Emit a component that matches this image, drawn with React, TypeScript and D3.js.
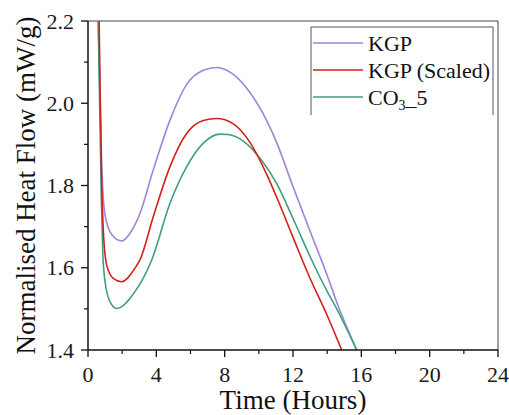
import React from "react";
import * as d3 from "d3";

const W = 509;
const H = 415;
const M = { left: 88, right: 498, top: 21, bottom: 350 };

const xTicks = [0, 4, 8, 12, 16, 20, 24];
const xMinor = [2, 6, 10, 14, 18, 22];
const yTicks = [1.4, 1.6, 1.8, 2.0, 2.2];
const yMinor = [1.5, 1.7, 1.9, 2.1];

const kgpTime = [0.5, 0.6, 0.8, 1.0, 1.4, 1.97, 2.46, 3.04, 3.82, 4.8, 5.78, 6.75, 7.53, 8.51, 9.48, 10.46, 11.04, 12.02, 12.99, 13.97, 14.6, 15.73];
const kgpFlow = [2.45, 2.2, 1.85, 1.728, 1.68, 1.665, 1.684, 1.732, 1.838, 1.959, 2.046, 2.08, 2.087, 2.07, 2.026, 1.958, 1.905, 1.795, 1.69, 1.585, 1.512, 1.4];

const scaledTime = [0.55, 0.65, 0.8, 0.9, 1.09, 1.48, 1.97, 2.75, 3.04, 3.82, 4.8, 5.78, 6.75, 7.53, 8.51, 9.48, 10.46, 11.04, 12.02, 12.99, 13.97, 14.85];
const scaledFlow = [2.45, 2.2, 1.809, 1.688, 1.607, 1.574, 1.566, 1.599, 1.619, 1.724, 1.846, 1.927, 1.958, 1.963, 1.95, 1.905, 1.827, 1.772, 1.672, 1.575, 1.487, 1.4];

const co3Time = [0.5, 0.6, 0.78, 0.87, 1.0, 1.29, 1.68, 2.75, 3.73, 4.8, 5.78, 6.75, 7.73, 8.21, 9.09, 10.07, 11.04, 12.02, 12.99, 13.97, 14.6, 15.73];
const co3Flow = [2.45, 2.2, 1.769, 1.631, 1.566, 1.517, 1.501, 1.542, 1.619, 1.757, 1.846, 1.903, 1.925, 1.924, 1.908, 1.866, 1.805, 1.718, 1.628, 1.545, 1.497, 1.4];

const seriesNames = ["KGP", "KGP (Scaled)", "CO3_5"];
const seriesColors = ["#a283d8", "#d61e1e", "#3f9f7c"];

const FONT = '"Liberation Serif", "Times New Roman", Times, "DejaVu Serif", serif';
const tStyle = { fontFamily: FONT };

export default function App() {
  const x = d3.scaleLinear().domain([0, 24]).range([M.left, M.right]);
  const y = d3.scaleLinear().domain([1.4, 2.2]).range([M.bottom, M.top]);
  const line = d3
    .line<[number, number]>()
    .x((d) => x(d[0]))
    .y((d) => y(d[1]))
    .curve(d3.curveMonotoneX);

  const series = [
    { name: seriesNames[0], color: seriesColors[0], data: kgpTime.map((t, i) => [t, kgpFlow[i]] as [number, number]) },
    { name: seriesNames[1], color: seriesColors[1], data: scaledTime.map((t, i) => [t, scaledFlow[i]] as [number, number]) },
    { name: seriesNames[2], color: seriesColors[2], data: co3Time.map((t, i) => [t, co3Flow[i]] as [number, number]) },
  ];
  const drawOrder = [0, 2, 1];

  const legendX = 311;
  const legendY0 = 43;
  const legendDy = 27;

  return (
    <svg
      width={W}
      height={H}
      style={{ position: "absolute", left: 0, top: 0, background: "#fff", fontFamily: FONT }}
    >
      <defs>
        <clipPath id="plotClip">
          <rect x={M.left} y={M.top} width={M.right - M.left} height={M.bottom - M.top} />
        </clipPath>
      </defs>
      <rect x={0} y={0} width={W} height={H} fill="#fff" />

      <line x1={M.left} x2={M.right} y1={M.top} y2={M.top} stroke="#444" strokeWidth={1} />
      <line x1={M.right} x2={M.right} y1={M.top} y2={M.bottom} stroke="#444" strokeWidth={1} />

      <g clipPath="url(#plotClip)">
        {drawOrder.map((i) => (
          <path key={i} d={line(series[i].data) || ""} fill="none" stroke={series[i].color} strokeWidth={1.6} />
        ))}
      </g>

      <line x1={M.left} x2={M.left} y1={M.top} y2={M.bottom} stroke="#111" strokeWidth={1.5} />
      <line x1={M.left} x2={M.right} y1={M.bottom} y2={M.bottom} stroke="#111" strokeWidth={1.5} />

      {xTicks.map((t) => (
        <g key={"xt" + t}>
          <line x1={x(t)} x2={x(t)} y1={M.bottom} y2={M.bottom + 7} stroke="#111" strokeWidth={1.3} />
          <text x={x(t)} y={382} textAnchor="middle" fontSize={22} fill="#1a1a1a" style={tStyle}>
            {t}
          </text>
        </g>
      ))}
      {xMinor.map((t) => (
        <line key={"xm" + t} x1={x(t)} x2={x(t)} y1={M.bottom} y2={M.bottom + 4} stroke="#111" strokeWidth={1.2} />
      ))}

      {yTicks.map((v) => (
        <g key={"yt" + v}>
          <line x1={M.left - 7} x2={M.left} y1={y(v)} y2={y(v)} stroke="#111" strokeWidth={1.3} />
          <text x={M.left - 14} y={y(v) + 7.5} textAnchor="end" fontSize={22} fill="#1a1a1a" style={tStyle}>
            {v.toFixed(1)}
          </text>
        </g>
      ))}
      {yMinor.map((v) => (
        <line key={"ym" + v} x1={M.left - 4} x2={M.left} y1={y(v)} y2={y(v)} stroke="#111" strokeWidth={1.2} />
      ))}

      <text x={(M.left + M.right) / 2} y={409} textAnchor="middle" fontSize={27} fill="#111" style={tStyle}>
        Time (Hours)
      </text>
      <text
        transform={`translate(35,${(M.top + M.bottom) / 2}) rotate(-90)`}
        textAnchor="middle"
        fontSize={27}
        fill="#111"
        style={tStyle}
      >
        Normalised Heat Flow (mW/g)
      </text>

      <polyline
        points={`${legendX},115 ${legendX},27 493,27 493,115`}
        fill="none"
        stroke="#555"
        strokeWidth={1}
      />
      {series.map((s, i) => {
        const ly = legendY0 + i * legendDy;
        return (
          <g key={"lg" + i}>
            <line x1={313} x2={363} y1={ly} y2={ly} stroke={s.color} strokeWidth={1.6} />
            <text x={368} y={ly + 7.5} fontSize={22} fill="#111" style={tStyle}>
              {i === 2 ? (
                <>
                  CO
                  <tspan fontSize={14} dy={5}>3</tspan>
                  <tspan dy={-5}>_5</tspan>
                </>
              ) : (
                s.name
              )}
            </text>
          </g>
        );
      })}
    </svg>
  );
}
